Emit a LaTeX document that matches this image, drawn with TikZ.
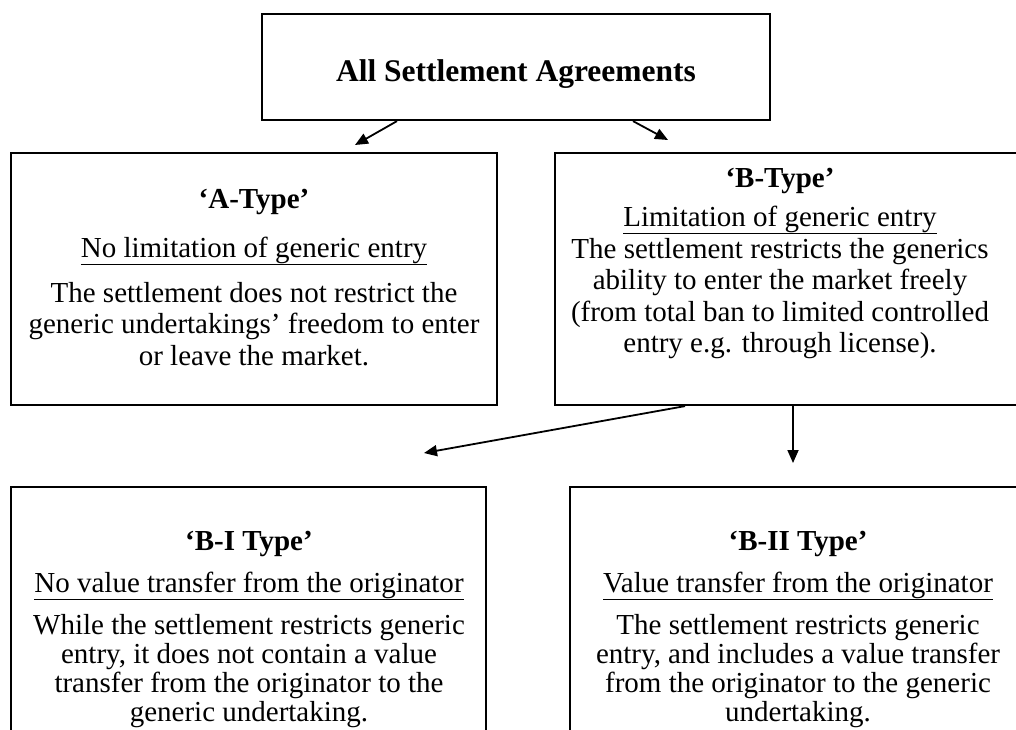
\documentclass[tikz,border=0pt]{standalone}
\usepackage{fontspec}
\setmainfont{Liberation Serif}
\usetikzlibrary{arrows.meta,calc}
\begin{document}
\begin{tikzpicture}[x=1pt,y=-1pt,
  box/.style={draw,line width=2.2pt,inner sep=0pt,fill=none},
  ttl/.style={anchor=base,inner sep=0pt,font=\fontsize{29}{31.5}\selectfont\bfseries},
  sub/.style={anchor=base,inner sep=0pt,font=\fontsize{29}{31.5}\selectfont},
  body/.style={anchor=base,inner sep=0pt,align=center,font=\fontsize{29}{31.5}\selectfont},
  bodyb/.style={anchor=base,inner sep=0pt,align=center,font=\fontsize{29}{29}\selectfont},
  arr/.style={line width=1.8pt,-{Triangle[length=13pt,width=11pt]}}]
\useasboundingbox (0,0) rectangle (1016,729);
% boxes
\node[box,minimum width=508pt,minimum height=106pt] (top) at (516,67) {};
\node[box,minimum width=486pt,minimum height=252pt] (A) at (254,279) {};
\node[box,minimum width=475pt,minimum height=252pt] (B) at (792.5,279) {};
\node[box,minimum width=475pt,minimum height=273pt] (BI) at (248.5,623.5) {};
\node[box,minimum width=460pt,minimum height=273pt] (BII) at (800,623.5) {};
% texts
\node[ttl,font=\fontsize{31.5}{34}\selectfont\bfseries] (toptxt) at (516,81) {All Settlement Agreements};
\node[ttl] (At) at (254,208) {‘A-Type’};
\node[sub] (As) at (254,257) {\underline{No limitation of generic entry}};
\node[body] (Ab) at (254,365) {The settlement does not restrict the\\generic undertakings’ freedom to enter\\or leave the market.};
\node[ttl] (Bt) at (780,187) {‘B-Type’};
\node[sub] (Bs) at (780,226) {\underline{Limitation of generic entry}};
\node[body] (Bb) at (780,352.5) {The settlement restricts the generics\\ability to enter the market freely\\(from total ban to limited controlled\\entry e.g. through license).};
\node[ttl] (BIt) at (249,550) {‘B-I Type’};
\node[sub] (BIs) at (249,592) {\underline{No value transfer from the originator}};
\node[bodyb] (BIb) at (249,721) {While the settlement restricts generic\\entry, it does not contain a value\\transfer from the originator to the\\generic undertaking.};
\node[ttl] (BIIt) at (798,550) {‘B-II Type’};
\node[sub] (BIIs) at (798,592) {\underline{Value transfer from the originator}};
\node[bodyb] (BIIb) at (798,721) {The settlement restricts generic\\entry, and includes a value transfer\\from the originator to the generic\\undertaking.};
% connectors
\coordinate (s1) at (397,0);
\coordinate (e1) at (355,145);
\coordinate (s2) at (633,0);
\coordinate (e2) at (668,140);
\coordinate (s3) at (685,0);
\coordinate (e3) at (424,453);
\coordinate (s4) at (793,0);
\coordinate (e4) at (793,463);
\draw[arr] (top.south -| s1) -- (e1);
\draw[arr] (top.south -| s2) -- (e2);
\draw[arr] (B.south -| s3) -- (e3);
\draw[arr] (B.south -| s4) -- (e4);
\end{tikzpicture}
\end{document}
